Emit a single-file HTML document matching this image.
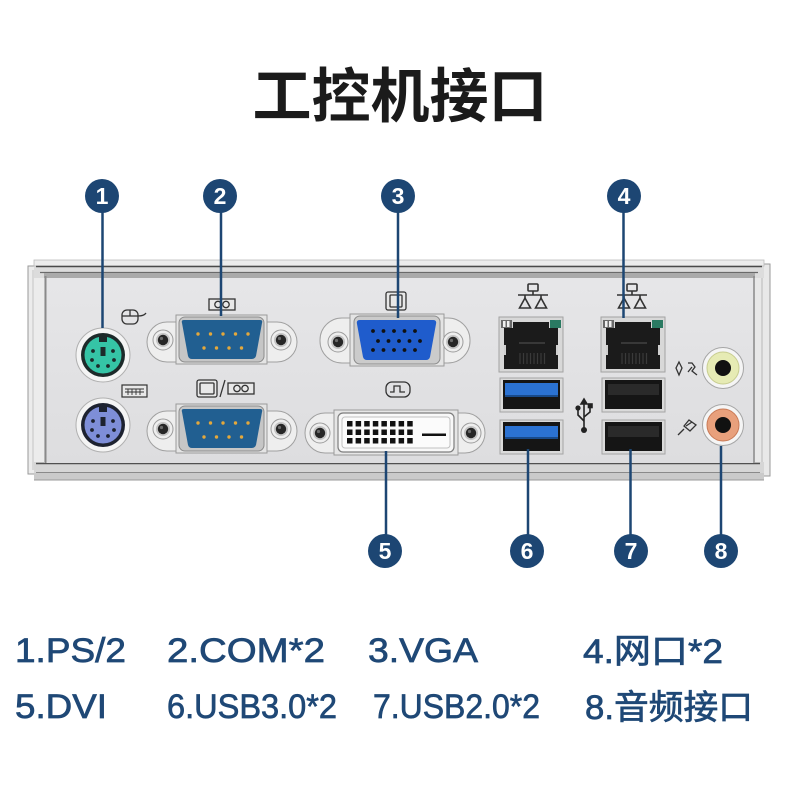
<!DOCTYPE html>
<html><head><meta charset="utf-8">
<style>
html,body{margin:0;padding:0;background:#fff;}
svg{display:block}
</style></head><body>
<svg width="800" height="800" viewBox="0 0 800 800" xmlns="http://www.w3.org/2000/svg">
<defs>
 <linearGradient id="face" x1="0" y1="0" x2="0" y2="1">
  <stop offset="0" stop-color="#e6e6e8"/><stop offset="1" stop-color="#dddddf"/>
 </linearGradient>
 <g id="screw">
  <circle r="10" fill="#eeeeee" stroke="#9c9c9c" stroke-width="1"/>
  <circle r="7" fill="#c4c4c4"/>
  <circle r="5.2" fill="#262626"/>
  <circle cx="-1.5" cy="-1.5" r="1.6" fill="#6a6a6a"/>
 </g>
 <g id="usbframe">
  <rect x="0" y="0" width="63" height="34" fill="#dadada" stroke="#a4a4a4"/>
  <rect x="3" y="2" width="57" height="29" fill="#151515"/>
 </g>
 <g id="lan">
  <rect x="0" y="0" width="64" height="55" fill="#d8d8d8" stroke="#a2a2a2"/>
  <rect x="2" y="3" width="11" height="8" fill="#6a6a6a"/>
  <rect x="4" y="4" width="2.5" height="6" fill="#f0f0f0"/>
  <rect x="8" y="4" width="2.5" height="6" fill="#f0f0f0"/>
  <rect x="51" y="3" width="11" height="8" fill="#2a7a62"/>
  <path d="M14,5 L50,5 L50,11 L59,11 L59,52 L5,52 L5,11 L14,11 Z" fill="#1b1b1b"/>
  <line x1="20" y1="26" x2="46" y2="26" stroke="#555" stroke-width="1"/>
  <g stroke="#3a3a3a" stroke-width="1.2">
   <line x1="21" y1="36" x2="21" y2="47"/><line x1="24.5" y1="36" x2="24.5" y2="47"/>
   <line x1="28" y1="36" x2="28" y2="47"/><line x1="31.5" y1="36" x2="31.5" y2="47"/>
   <line x1="35" y1="36" x2="35" y2="47"/><line x1="38.5" y1="36" x2="38.5" y2="47"/>
   <line x1="42" y1="36" x2="42" y2="47"/><line x1="45.5" y1="36" x2="45.5" y2="47"/>
  </g>
  <rect x="5" y="28" width="2" height="10" fill="#cfcfcf"/>
  <rect x="57" y="28" width="2" height="10" fill="#cfcfcf"/>
 </g>
 <g id="net" fill="none" stroke="#333" stroke-width="1.6">
  <rect x="-5" y="-13" width="10" height="7" rx="1"/>
  <line x1="0" y1="-6" x2="0" y2="-2"/>
  <line x1="-15" y1="-2" x2="15" y2="-2"/>
  <line x1="-8" y1="-2" x2="-8" y2="1"/><line x1="8" y1="-2" x2="8" y2="1"/>
  <path d="M-13.5,11 L-8,1 L-2.5,11 Z"/><path d="M2.5,11 L8,1 L13.5,11 Z"/>
 </g>
 <g id="comicon" fill="none" stroke="#333" stroke-width="1.3">
  <rect x="0" y="0" width="26" height="11" fill="#e8e8e8"/>
  <circle cx="9" cy="5.5" r="3.2"/><circle cx="17" cy="5.5" r="3.2"/>
 </g>
</defs>

<rect width="800" height="800" fill="#fff"/>

<!-- Title -->
<text x="400" y="117" text-anchor="middle" font-family="'Liberation Sans','Noto Sans CJK SC',sans-serif" font-weight="bold" font-size="59" fill="#1b1b1b">工控机接口</text>

<!-- Panel frame -->
<rect x="28" y="266" width="17" height="208" fill="#ececec" stroke="#9a9a9a"/>
<line x1="33" y1="270" x2="33" y2="470" stroke="#c4c4c4"/>
<rect x="753" y="264" width="17" height="212" fill="#e8e8e8" stroke="#9a9a9a"/>
<line x1="762" y1="270" x2="762" y2="470" stroke="#b8b8b8"/>
<rect x="34" y="260" width="730" height="18" fill="#dcdcdc"/>
<rect x="34" y="260" width="730" height="6" fill="#ececec" stroke="#bcbcbc" stroke-width="0.8"/>
<line x1="36" y1="266.5" x2="762" y2="266.5" stroke="#4a4a4a" stroke-width="1.5"/>
<line x1="40" y1="272.5" x2="758" y2="272.5" stroke="#6a6a6a" stroke-width="1.2"/>
<rect x="44" y="273" width="711" height="5" fill="#aaaaaa"/>
<rect x="34" y="462" width="730" height="18" fill="#d6d6d6"/>
<line x1="36" y1="463.5" x2="760" y2="463.5" stroke="#505050" stroke-width="1.5"/>
<line x1="36" y1="472.5" x2="760" y2="472.5" stroke="#8a8a8a" stroke-width="1"/>
<rect x="34" y="473" width="730" height="7" fill="#cacaca"/>
<line x1="34" y1="480" x2="764" y2="480" stroke="#9a9a9a"/>
<rect x="44" y="278" width="711" height="185" fill="url(#face)"/>
<line x1="45.5" y1="276" x2="45.5" y2="463" stroke="#8a8a8a" stroke-width="2"/>
<line x1="754" y1="276" x2="754" y2="463" stroke="#8a8a8a" stroke-width="1.5"/>

<!-- PS/2 green -->
<g transform="translate(103,355)">
 <circle r="27" fill="#f4f4f4" stroke="#b0b0b0"/>
 <circle r="22" fill="#1d2a2a"/>
 <circle r="18.5" fill="#35c4a6"/>
 <rect x="-4" y="-19" width="8" height="6" fill="#1d2a2a"/>
 <rect x="-2.5" y="-8" width="5" height="9" fill="#1d2a2a"/>
 <g fill="#1d2a2a"><circle cx="-10" cy="-4" r="1.9"/><circle cx="10" cy="-4" r="1.9"/><circle cx="-11" cy="5" r="1.9"/><circle cx="11" cy="5" r="1.9"/><circle cx="-5" cy="11" r="1.9"/><circle cx="5" cy="11" r="1.9"/></g>
</g>
<!-- PS/2 purple -->
<g transform="translate(103,425)">
 <circle r="27" fill="#f4f4f4" stroke="#b0b0b0"/>
 <circle r="22" fill="#1d2230"/>
 <circle r="18.5" fill="#7e8ed8"/>
 <rect x="-4" y="-19" width="8" height="6" fill="#1d2230"/>
 <rect x="-2.5" y="-8" width="5" height="9" fill="#1d2230"/>
 <g fill="#1d2230"><circle cx="-10" cy="-4" r="1.9"/><circle cx="10" cy="-4" r="1.9"/><circle cx="-11" cy="5" r="1.9"/><circle cx="11" cy="5" r="1.9"/><circle cx="-5" cy="11" r="1.9"/><circle cx="5" cy="11" r="1.9"/></g>
</g>

<!-- mouse icon -->
<g fill="none" stroke="#333" stroke-width="1.3">
 <rect x="122" y="310" width="16" height="14" rx="5"/>
 <line x1="130" y1="310" x2="130" y2="316"/>
 <line x1="122" y1="316" x2="138" y2="316"/>
 <path d="M138,316 Q144,316 146,313"/>
</g>
<!-- keyboard icon -->
<g fill="#e8e8e8" stroke="#333" stroke-width="1.2">
 <rect x="122" y="385" width="25" height="12"/>
 <path d="M125,389 H144 M125,392 H144 M128,389 V395 M132,389 V395 M136,389 V395 M140,389 V395" fill="none" stroke-width="0.9"/>
</g>

<!-- COM ports -->
<g id="com1">
 <rect x="147" y="322" width="150" height="40" rx="20" fill="#eeeeee" stroke="#a0a0a0"/>
 <rect x="176" y="315" width="91" height="49" fill="#e4e4e4" stroke="#9a9a9a"/>
 <rect x="179" y="317" width="85" height="45" rx="6" fill="#c6c6c6" stroke="#8c8c8c"/>
 <path d="M184,320 L260,320 Q263,320 262,323 L256,356 Q255,359 252,359 L192,359 Q189,359 188,356 L182,323 Q181,320 184,320 Z" fill="#215f91"/>
 <g fill="#e3a83c">
  <circle cx="198" cy="334" r="1.7"/><circle cx="210.5" cy="334" r="1.7"/><circle cx="223" cy="334" r="1.7"/><circle cx="235.5" cy="334" r="1.7"/><circle cx="248" cy="334" r="1.7"/>
  <circle cx="204" cy="348" r="1.7"/><circle cx="216.5" cy="348" r="1.7"/><circle cx="229" cy="348" r="1.7"/><circle cx="241.5" cy="348" r="1.7"/>
 </g>
 <use href="#screw" x="163" y="340"/>
 <use href="#screw" x="281" y="340"/>
</g>
<use href="#com1" y="89"/>
<use href="#comicon" x="209" y="299"/>
<g fill="none" stroke="#333" stroke-width="1.3">
 <rect x="197" y="380" width="20" height="17" rx="2" fill="#e8e8e8"/>
 <rect x="200" y="383" width="14" height="11" rx="1"/>
 <line x1="225" y1="380" x2="220" y2="397"/>
</g>
<use href="#comicon" x="228" y="383"/>

<!-- VGA -->
<rect x="320" y="318" width="150" height="45" rx="22" fill="#eeeeee" stroke="#a0a0a0"/>
<rect x="350" y="314" width="94" height="52" fill="#e4e4e4" stroke="#9a9a9a"/>
<rect x="354" y="316" width="86" height="48" rx="6" fill="#cbcbcb" stroke="#8c8c8c"/>
<path d="M360,320 L433,320 Q437,320 436,324 L430,357 Q429,360 426,360 L367,360 Q364,360 363,357 L357,324 Q356,320 360,320 Z" fill="#1f5ccc"/>
<g fill="#111">
 <circle cx="373" cy="331" r="1.9"/><circle cx="383.5" cy="331" r="1.9"/><circle cx="394" cy="331" r="1.9"/><circle cx="404.5" cy="331" r="1.9"/><circle cx="415" cy="331" r="1.9"/>
 <circle cx="378" cy="341" r="1.9"/><circle cx="388.5" cy="341" r="1.9"/><circle cx="399" cy="341" r="1.9"/><circle cx="409.5" cy="341" r="1.9"/><circle cx="420" cy="341" r="1.9"/>
 <circle cx="373" cy="350" r="1.9"/><circle cx="383.5" cy="350" r="1.9"/><circle cx="394" cy="350" r="1.9"/><circle cx="404.5" cy="350" r="1.9"/><circle cx="415" cy="350" r="1.9"/>
</g>
<use href="#screw" x="338" y="342"/>
<use href="#screw" x="453" y="342"/>
<!-- monitor icon -->
<g fill="none" stroke="#333" stroke-width="1.3">
 <rect x="386" y="292" width="20" height="18" rx="2" fill="#e8e8e8"/>
 <rect x="390" y="295" width="12" height="12" rx="1"/>
</g>

<!-- DVI -->
<rect x="305" y="413" width="180" height="40" rx="20" fill="#eeeeee" stroke="#a0a0a0"/>
<rect x="334" y="410" width="124" height="45" fill="#e6e6e6" stroke="#9a9a9a"/>
<rect x="338" y="413" width="116" height="39" rx="5" fill="#f8f8f8" stroke="#7e7e7e" stroke-width="1.2"/>
<rect x="342" y="417" width="108" height="31" rx="3" fill="#fbfbfb" stroke="#c0c0c0"/>
<g fill="#111">
 <rect x="347" y="421" width="5.5" height="5.5"/><rect x="355.6" y="421" width="5.5" height="5.5"/><rect x="364.2" y="421" width="5.5" height="5.5"/><rect x="372.8" y="421" width="5.5" height="5.5"/><rect x="381.4" y="421" width="5.5" height="5.5"/><rect x="390" y="421" width="5.5" height="5.5"/><rect x="398.6" y="421" width="5.5" height="5.5"/><rect x="407.2" y="421" width="5.5" height="5.5"/>
 <rect x="347" y="429.5" width="5.5" height="5.5"/><rect x="355.6" y="429.5" width="5.5" height="5.5"/><rect x="364.2" y="429.5" width="5.5" height="5.5"/><rect x="372.8" y="429.5" width="5.5" height="5.5"/><rect x="381.4" y="429.5" width="5.5" height="5.5"/><rect x="390" y="429.5" width="5.5" height="5.5"/><rect x="398.6" y="429.5" width="5.5" height="5.5"/><rect x="407.2" y="429.5" width="5.5" height="5.5"/>
 <rect x="347" y="438" width="5.5" height="5.5"/><rect x="355.6" y="438" width="5.5" height="5.5"/><rect x="364.2" y="438" width="5.5" height="5.5"/><rect x="372.8" y="438" width="5.5" height="5.5"/><rect x="381.4" y="438" width="5.5" height="5.5"/><rect x="390" y="438" width="5.5" height="5.5"/><rect x="398.6" y="438" width="5.5" height="5.5"/><rect x="407.2" y="438" width="5.5" height="5.5"/>
 <rect x="422" y="433.5" width="24" height="2.5"/>
</g>
<use href="#screw" x="320" y="433"/>
<use href="#screw" x="471" y="433"/>
<!-- DVI icon -->
<g fill="none" stroke="#333" stroke-width="1.3">
 <rect x="386" y="382" width="24" height="15" rx="6"/>
 <path d="M390,392 H394 V386 H400 V392 H405"/>
</g>

<!-- LAN + USB column 1 -->
<use href="#lan" x="499" y="317"/>
<use href="#net" x="533" y="297"/>
<use href="#usbframe" x="500" y="378"/>
<rect x="505" y="383" width="53" height="13" fill="#2b72d2"/>
<rect x="505" y="395" width="53" height="2" fill="#184a8a"/>
<use href="#usbframe" x="500" y="420"/>
<rect x="505" y="426" width="53" height="12" fill="#2b72d2"/>
<rect x="505" y="437" width="53" height="2" fill="#184a8a"/>

<!-- LAN + USB column 2 -->
<use href="#lan" x="601" y="317"/>
<use href="#net" x="632" y="297"/>
<use href="#usbframe" x="602" y="378"/>
<rect x="608" y="384" width="51" height="11" fill="#2a2a2a"/>
<use href="#usbframe" x="602" y="420"/>
<rect x="608" y="426" width="51" height="11" fill="#2a2a2a"/>
<!-- usb icon -->
<g fill="none" stroke="#222" stroke-width="1.6">
 <line x1="584" y1="401" x2="584" y2="428"/>
 <path d="M584,421 L578,415 L578,409"/>
 <path d="M584,417 L590,412 L590,407"/>
 <path d="M581,404 L584,399 L587,404 Z" fill="#222"/>
 <circle cx="578" cy="408" r="1.8" fill="#222"/>
 <rect x="588.5" y="404" width="3.5" height="3.5" fill="#222"/>
</g>
<circle cx="584" cy="430" r="3" fill="#222"/>

<!-- Audio -->
<g transform="translate(723,368)">
 <circle r="20.5" fill="#f5f5f5" stroke="#a6a6a6"/>
 <circle r="16" fill="#e6ebb4" stroke="#c8cd90"/>
 <circle r="8" fill="#111"/>
</g>
<g transform="translate(723,425)">
 <circle r="20.5" fill="#f5f5f5" stroke="#a6a6a6"/>
 <circle r="16" fill="#e8a07c" stroke="#c97a56"/>
 <circle r="8" fill="#111"/>
</g>
<!-- audio out icon -->
<g fill="none" stroke="#333" stroke-width="1.3">
 <path d="M679,362 L682,368 L679,375 L676,368 Z"/>
 <path d="M688,363 L692,363 L695,367 L692,371 L697,375 M692,367 L688,372"/>
</g>
<!-- mic icon -->
<g fill="none" stroke="#333" stroke-width="1.3">
 <path d="M689,420 L696,425 L690,431 L684,426 Z"/>
 <line x1="684" y1="429" x2="678" y2="435"/>
 <line x1="686" y1="426" x2="692" y2="422"/>
</g>

<!-- Callout lines -->
<g stroke="#1d4673" stroke-width="2.5">
 <line x1="102.5" y1="205" x2="102.5" y2="328"/>
 <line x1="221" y1="205" x2="221" y2="316"/>
 <line x1="398" y1="205" x2="398" y2="318"/>
 <line x1="623.5" y1="205" x2="623.5" y2="318"/>
 <line x1="386" y1="451" x2="386" y2="545"/>
 <line x1="528" y1="449" x2="528" y2="545"/>
 <line x1="630.5" y1="449" x2="630.5" y2="545"/>
 <line x1="721" y1="446" x2="721" y2="545"/>
</g>
<g fill="#1d4673">
 <circle cx="102" cy="196" r="17"/>
 <circle cx="220" cy="196" r="17"/>
 <circle cx="398" cy="196" r="17"/>
 <circle cx="624" cy="196" r="17"/>
 <circle cx="385" cy="551" r="17"/>
 <circle cx="527" cy="551" r="17"/>
 <circle cx="631" cy="551" r="17"/>
 <circle cx="721" cy="551" r="17"/>
</g>
<g fill="#fff" font-family="'Liberation Sans',sans-serif" font-weight="bold" font-size="23" text-anchor="middle">
 <text x="102" y="204">1</text>
 <text x="220" y="204">2</text>
 <text x="398" y="204">3</text>
 <text x="624" y="204">4</text>
 <text x="385" y="559">5</text>
 <text x="527" y="559">6</text>
 <text x="631" y="559">7</text>
 <text x="721" y="559">8</text>
</g>

<!-- Legend -->
<g fill="#1f4876" stroke="#1f4876" stroke-width="0.7" font-family="'Liberation Sans','Noto Sans CJK SC',sans-serif" font-size="34">
 <text x="15" y="662" textLength="111" lengthAdjust="spacingAndGlyphs">1.PS/2</text>
 <text x="167" y="662" textLength="158" lengthAdjust="spacingAndGlyphs">2.COM*2</text>
 <text x="368" y="662" textLength="110" lengthAdjust="spacingAndGlyphs">3.VGA</text>
 <text x="583" y="663" textLength="140" lengthAdjust="spacingAndGlyphs">4.网口*2</text>
 <text x="15" y="718" textLength="92" lengthAdjust="spacingAndGlyphs">5.DVI</text>
 <text x="167" y="718" textLength="170" lengthAdjust="spacingAndGlyphs">6.USB3.0*2</text>
 <text x="373" y="718" textLength="167" lengthAdjust="spacingAndGlyphs">7.USB2.0*2</text>
 <text x="585" y="719" textLength="168" lengthAdjust="spacingAndGlyphs">8.音频接口</text>
</g>
</svg>
</body></html>
